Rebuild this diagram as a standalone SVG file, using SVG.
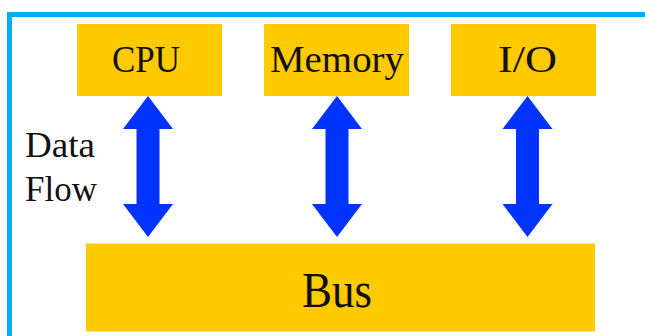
<svg xmlns="http://www.w3.org/2000/svg" width="645" height="336" viewBox="0 0 645 336">
<defs>
<style>
.box{fill:#FFCA00;}
.lbl{font-family:"Liberation Serif",serif;fill:#111;}
.arr{fill:#0033FF;}
</style>
<path id="dbl" d="M0,0 L25,33 L11.5,33 L11.5,108 L25,108 L0,141 L-25,108 L-11.5,108 L-11.5,33 L-25,33 Z"/>
</defs>
<rect width="645" height="336" fill="#fff"/>
<rect x="9.5" y="14.5" width="660" height="340" fill="none" stroke="#00B0F0" stroke-width="5"/>
<g id="cpu"><rect class="box" x="77" y="24" width="145" height="72"/><text class="lbl" x="112" y="72" font-size="38" textLength="68" lengthAdjust="spacingAndGlyphs">CPU</text></g>
<g id="memory"><rect class="box" x="264" y="24" width="145" height="72"/><text class="lbl" x="270" y="72" font-size="38" textLength="134" lengthAdjust="spacingAndGlyphs">Memory</text></g>
<g id="io"><rect class="box" x="451" y="24" width="145" height="72"/><text class="lbl" x="498" y="72" font-size="38" textLength="59" lengthAdjust="spacingAndGlyphs">I/O</text></g>
<g id="bus"><rect class="box" x="86" y="243.5" width="509" height="88"/><text class="lbl" x="302" y="307" font-size="50" textLength="70" lengthAdjust="spacingAndGlyphs">Bus</text></g>
<g id="label"><text class="lbl" x="25" y="157" font-size="36" textLength="70" lengthAdjust="spacingAndGlyphs">Data</text><text class="lbl" x="25" y="201" font-size="36" textLength="72" lengthAdjust="spacingAndGlyphs">Flow</text></g>
<g id="connectors">
<use href="#dbl" class="arr" x="148" y="96"/>
<use href="#dbl" class="arr" x="337" y="96"/>
<use href="#dbl" class="arr" x="527.5" y="96"/>
</g>
</svg>
